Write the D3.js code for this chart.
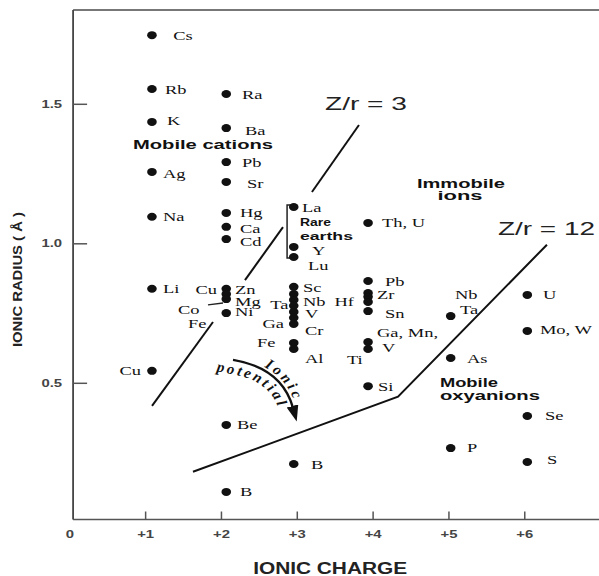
<!DOCTYPE html>
<html>
<head>
<meta charset="utf-8">
<script src="https://cdn.jsdelivr.net/npm/d3@7"></script>
<style>
    body { margin: 0; background: #fff; }
    svg { display: block; }
</style>
</head>
<body>
<div id="chart"></div>
<script>
// Ionic charge of each dot column (dots sit a little off the integer ticks)
const colCharge = [1.09, 2.07, 2.96, 3.94, 5.03, 6.04];

// Ionic radius of each dot, per column
const radiiP1 = [1.746, 1.553, 1.435, 1.256, 1.095, 0.837, 0.543];
const radiiP2 = [1.535, 1.413, 1.291, 1.220, 1.109, 1.059, 1.015, 0.837, 0.818, 0.800, 0.750, 0.349, 0.109];
const radiiP3 = [1.130, 0.987, 0.951, 0.844, 0.818, 0.797, 0.776, 0.754, 0.733, 0.711, 0.643, 0.621, 0.209];
const radiiP4 = [1.073, 0.865, 0.822, 0.808, 0.790, 0.757, 0.646, 0.621, 0.488];
const radiiP5 = [0.739, 0.589, 0.266];
const radiiP6 = [0.815, 0.686, 0.381, 0.216];

// Tick values
const xTicks = [0, 1, 2, 3, 4, 5, 6];
const yTicks = [0.5, 1.0, 1.5];

// Element labels: text, charge, radius, anchor
const elementLabels = [
    ['Cs', 1.370, 1.746, 'start'], ['Rb', 1.262, 1.553, 'start'], ['K', 1.288, 1.442, 'start'],
    ['Ag', 1.236, 1.252, 'start'], ['Na', 1.236, 1.095, 'start'], ['Li', 1.236, 0.837, 'start'],
    ['Cu', 0.946, 0.543, 'end'],
    ['Ra', 2.277, 1.535, 'start'], ['Ba', 2.317, 1.406, 'start'], ['Pb', 2.277, 1.291, 'start'],
    ['Sr', 2.343, 1.216, 'start'], ['Hg', 2.251, 1.109, 'start'], ['Ca', 2.251, 1.055, 'start'],
    ['Cd', 2.251, 1.008, 'start'], ['Zn', 2.185, 0.833, 'start'], ['Mg', 2.185, 0.793, 'start'],
    ['Ni', 2.185, 0.754, 'start'], ['Cu', 1.948, 0.833, 'end'], ['Co', 1.433, 0.764, 'start'],
    ['Fe', 1.565, 0.714, 'start'], ['Be', 2.211, 0.349, 'start'], ['B', 2.251, 0.109, 'start'],
    ['La', 3.068, 1.130, 'start'], ['Y', 3.200, 0.976, 'start'], ['Lu', 3.148, 0.922, 'start'],
    ['Sc', 3.082, 0.843, 'start'], ['Nb', 3.082, 0.790, 'start'], ['V', 3.108, 0.747, 'start'],
    ['Cr', 3.108, 0.686, 'start'], ['Al', 3.108, 0.589, 'start'], ['Ta', 2.890, 0.782, 'end'],
    ['Ga', 2.832, 0.714, 'end'], ['Fe', 2.475, 0.646, 'start'], ['B', 3.187, 0.209, 'start'],
    ['Th, U', 4.124, 1.073, 'start'], ['Pb', 4.163, 0.865, 'start'], ['Zr', 4.058, 0.818, 'start'],
    ['Hf', 3.754, 0.790, 'end'], ['Sn', 4.163, 0.750, 'start'], ['Ga, Mn,', 4.058, 0.679, 'start'],
    ['V', 4.124, 0.625, 'start'], ['Ti', 3.662, 0.585, 'start'], ['Si', 4.071, 0.488, 'start'],
    ['Nb', 5.086, 0.818, 'start'], ['Ta', 5.152, 0.764, 'start'], ['As', 5.245, 0.589, 'start'],
    ['P', 5.245, 0.270, 'start'],
    ['U', 6.247, 0.815, 'start'], ['Mo, W', 6.207, 0.693, 'start'], ['Se', 6.273, 0.384, 'start'],
    ['S', 6.300, 0.226, 'start']
];

// Group labels: text, charge, radius, anchor, width, size
const groupLabels = [
    ['Mobile cations', 0.840, 1.352, 'start', 140, 12],
    ['Immobile', 5.165, 1.216, 'middle', 88, 13],
    ['ions', 5.152, 1.170, 'middle', 45, 13],
    ['Mobile', 4.888, 0.503, 'start', 58, 13],
    ['oxyanions', 4.888, 0.453, 'start', 100, 13],
    ['Rare', 3.042, 1.076, 'start', 31, 11],
    ['earths', 3.042, 1.026, 'start', 53, 11]
];

// Boundary lines (charge, radius)
const zr3Segments = [
    [[1.091, 0.417], [1.895, 0.718]],
    [[2.317, 0.868], [2.818, 1.058]],
    [[3.200, 1.184], [3.820, 1.424]]
];
const zr12Line = [[1.631, 0.181], [4.335, 0.450], [6.299, 0.995]];
const coLeader = [[1.829, 0.779], [2.027, 0.786]];
const rareBracket = [[2.937, 1.137], [2.872, 1.137], [2.872, 0.947], [2.937, 0.947]];

// Ionic potential arrow (quadratic: start, control, end)
const arrowArc = [[2.159, 0.582], [2.805, 0.553], [2.950, 0.410]];
const ionicArc = [[2.165, 0.593], [2.837, 0.563], [2.990, 0.413]];
const potentialArc = [[1.894, 0.543], [2.128, 0.532], [2.659, 0.509], [2.772, 0.396]];

const width = 599;
const height = 576;

const svg = d3.select('#chart')
    .append('svg')
    .attr('width', width)
    .attr('height', height);

const xScale = d3.scaleLinear().domain([0, 7]).range([69.3, 600.1]);
const yScale = d3.scaleLinear().domain([0.5, 1.5]).range([382.8, 103.8]);

const frameLeft = xScale(0.05);
const frameBottom = yScale(0.01);
const frameTop = yScale(1.836);
const frameRight = xScale(7);

// stretch text horizontally (the original is a widened scan)
function stretch(sel, k) {
    sel.each(function() {
        const w = this.getComputedTextLength();
        d3.select(this).attr('textLength', w * k).attr('lengthAdjust', 'spacingAndGlyphs');
    });
}

// Frame
svg.append('line')
    .attr('x1', frameLeft).attr('x2', frameRight).attr('y1', frameTop).attr('y2', frameTop)
    .style('stroke', '#777').style('stroke-width', 2);
svg.append('line')
    .attr('x1', frameLeft).attr('x2', frameRight).attr('y1', frameBottom).attr('y2', frameBottom)
    .style('stroke', '#555').style('stroke-width', 1.5);
svg.append('line')
    .attr('x1', frameLeft).attr('x2', frameLeft).attr('y1', frameTop).attr('y2', frameBottom)
    .style('stroke', '#444').style('stroke-width', 1.8);

// Axes
const yAxis = d3.axisLeft(yScale)
    .tickValues(yTicks)
    .tickSize(-14)
    .tickPadding(11)
    .tickFormat(d3.format('.1f'));

const yg = svg.append('g')
    .attr('transform', `translate(${frameLeft},0)`)
    .call(yAxis);
yg.select('.domain').remove();

const xAxis = d3.axisBottom(xScale)
    .tickValues(xTicks)
    .tickSize(-8)
    .tickPadding(11)
    .tickFormat(d => d === 0 ? '0' : '+' + d);

const xg = svg.append('g')
    .attr('transform', `translate(0,${frameBottom})`)
    .call(xAxis);
xg.select('.domain').remove();
xg.selectAll('.tick').filter(d => d === 0).select('line').remove();

svg.selectAll('.tick line').style('stroke', '#555').style('stroke-width', 1.5);
svg.selectAll('.tick text')
    .style('font-family', '"Liberation Sans", Arial, sans-serif')
    .style('font-weight', 'bold')
    .style('font-size', '11px')
    .style('fill', '#444')
    .call(stretch, 1.35);

// Axis titles
svg.append('text')
    .attr('transform', `translate(22,${yScale(0.87)}) rotate(-90)`)
    .attr('text-anchor', 'middle')
    .attr('textLength', 135)
    .attr('lengthAdjust', 'spacingAndGlyphs')
    .style('font-family', '"Liberation Sans", Arial, sans-serif')
    .style('font-weight', 'bold')
    .style('font-size', '13px')
    .style('fill', '#222')
    .text('IONIC RADIUS ( Å )');

svg.append('text')
    .attr('x', xScale(3.44))
    .attr('y', 574)
    .attr('text-anchor', 'middle')
    .attr('textLength', 154)
    .attr('lengthAdjust', 'spacingAndGlyphs')
    .style('font-family', '"Liberation Sans", Arial, sans-serif')
    .style('font-weight', 'bold')
    .style('font-size', '16px')
    .style('fill', '#222')
    .text('IONIC CHARGE');

// Boundary lines
const line = d3.line()
    .x(d => xScale(d[0]))
    .y(d => yScale(d[1]));

svg.selectAll('.zr3')
    .data(zr3Segments)
    .join('path')
    .attr('class', 'zr3')
    .attr('d', line)
    .style('fill', 'none')
    .style('stroke', '#111')
    .style('stroke-width', 2);

svg.append('path')
    .datum(zr12Line)
    .attr('d', line)
    .style('fill', 'none')
    .style('stroke', '#111')
    .style('stroke-width', 2);

svg.append('path')
    .datum(coLeader)
    .attr('d', line)
    .style('fill', 'none')
    .style('stroke', '#222')
    .style('stroke-width', 1.3);

svg.append('path')
    .datum(rareBracket)
    .attr('d', line)
    .style('fill', 'none')
    .style('stroke', '#222')
    .style('stroke-width', 1.5);

// Z/r labels
[['Z/r = 3', 3.372, 1.477, 82], ['Z/r = 12', 5.653, 1.030, 97]].forEach(([t, c, r, w]) => {
    svg.append('text')
        .attr('x', xScale(c))
        .attr('y', yScale(r))
        .attr('textLength', w)
        .attr('lengthAdjust', 'spacingAndGlyphs')
        .style('font-family', '"Liberation Sans", Arial, sans-serif')
        .style('font-size', '18px')
        .style('fill', '#222')
        .text(t);
});

// Dots
const columns = [radiiP1, radiiP2, radiiP3, radiiP4, radiiP5, radiiP6];
const dots = columns.flatMap((radii, i) => radii.map(r => ({ charge: colCharge[i], radius: r })));

svg.selectAll('.dot')
    .data(dots)
    .join('ellipse')
    .attr('class', 'dot')
    .attr('cx', d => xScale(d.charge))
    .attr('cy', d => yScale(d.radius))
    .attr('rx', 4.8)
    .attr('ry', 4)
    .style('fill', '#111');

// Element labels
svg.selectAll('.el')
    .data(elementLabels)
    .join('text')
    .attr('class', 'el')
    .attr('x', d => xScale(d[1]))
    .attr('y', d => yScale(d[2]))
    .attr('dy', '0.35em')
    .attr('text-anchor', d => d[3])
    .style('font-family', '"Liberation Serif", "Times New Roman", serif')
    .style('font-size', '13px')
    .style('fill', '#111')
    .text(d => d[0])
    .call(stretch, 1.42);

// Group labels
svg.selectAll('.grp')
    .data(groupLabels)
    .join('text')
    .attr('class', 'grp')
    .attr('x', d => xScale(d[1]))
    .attr('y', d => yScale(d[2]))
    .attr('dy', '0.35em')
    .attr('text-anchor', d => d[3])
    .attr('textLength', d => d[4])
    .attr('lengthAdjust', 'spacingAndGlyphs')
    .style('font-family', '"Liberation Sans", Arial, sans-serif')
    .style('font-weight', 'bold')
    .style('font-size', d => d[5] + 'px')
    .style('fill', '#111')
    .text(d => d[0]);

// Ionic potential arrow
const px = p => `${xScale(p[0])},${yScale(p[1])}`;

const defs = svg.append('defs');
defs.append('marker')
    .attr('id', 'head')
    .attr('markerUnits', 'userSpaceOnUse')
    .attr('markerWidth', 18)
    .attr('markerHeight', 14)
    .attr('refX', 2)
    .attr('refY', 6)
    .attr('orient', 'auto')
    .append('path')
    .attr('d', 'M0,0 L16,6 L0,12 Z')
    .style('fill', '#111');

svg.append('path')
    .attr('d', `M${px(arrowArc[0])} Q${px(arrowArc[1])} ${px(arrowArc[2])}`)
    .attr('marker-end', 'url(#head)')
    .style('fill', 'none')
    .style('stroke', '#111')
    .style('stroke-width', 2.4);

defs.append('path')
    .attr('id', 'ionicPath')
    .attr('d', `M${px(ionicArc[0])} Q${px(ionicArc[1])} ${px(ionicArc[2])}`);
defs.append('path')
    .attr('id', 'potentialPath')
    .attr('d', `M${px(potentialArc[0])} L${px(potentialArc[1])} Q${px(potentialArc[2])} ${px(potentialArc[3])}`);

svg.append('text')
    .style('font-family', '"Liberation Serif", "Times New Roman", serif')
    .style('font-style', 'italic')
    .style('font-weight', 'bold')
    .style('font-size', '15px')
    .style('letter-spacing', '3px')
    .style('fill', '#111')
    .append('textPath')
    .attr('href', '#ionicPath')
    .attr('startOffset', '38%')
    .text('Ionic');

svg.append('text')
    .style('font-family', '"Liberation Serif", "Times New Roman", serif')
    .style('font-style', 'italic')
    .style('font-weight', 'bold')
    .style('font-size', '15px')
    .style('letter-spacing', '2.6px')
    .style('fill', '#111')
    .append('textPath')
    .attr('href', '#potentialPath')
    .attr('startOffset', '4%')
    .text('potential');
</script>
</body>
</html>
